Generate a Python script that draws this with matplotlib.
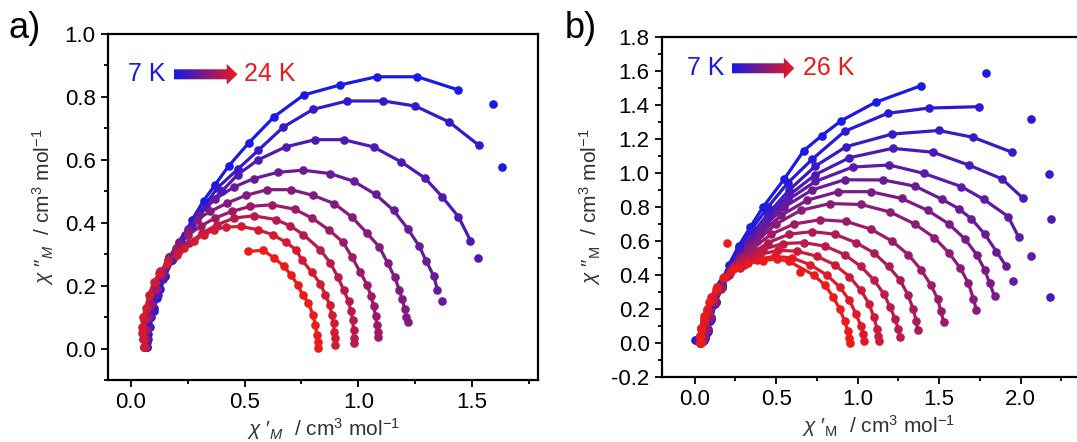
import matplotlib
matplotlib.use('Agg')
import matplotlib.pyplot as plt
import numpy as np
from matplotlib.patches import Polygon
from matplotlib.ticker import MultipleLocator

plt.rcParams['font.family'] = ['Liberation Sans', 'DejaVu Sans']
plt.rcParams['mathtext.fontset'] = 'custom'
plt.rcParams['mathtext.rm'] = 'Liberation Sans'
plt.rcParams['mathtext.it'] = 'Liberation Sans:italic'
plt.rcParams['axes.unicode_minus'] = False

# ---- panel a : 7 K -> 24 K ----
a1_x = [0.07, 0.07, 0.075, 0.08, 0.09, 0.10, 0.115, 0.13, 0.15, 0.18, 0.22, 0.27, 0.32, 0.37, 0.43, 0.52, 0.63, 0.76, 0.92, 1.08, 1.26, 1.44]
a1_y = [0.005, 0.02, 0.045, 0.07, 0.10, 0.13, 0.16, 0.19, 0.23, 0.28, 0.34, 0.41, 0.47, 0.52, 0.58, 0.655, 0.737, 0.806, 0.838, 0.864, 0.864, 0.822]
a2_x = [0.07, 0.075, 0.085, 0.10, 0.12, 0.15, 0.19, 0.24, 0.30, 0.38, 0.47, 0.56, 0.67, 0.80, 0.95, 1.11, 1.25, 1.40, 1.53]
a2_y = [0.005, 0.03, 0.07, 0.12, 0.17, 0.23, 0.29, 0.36, 0.43, 0.51, 0.57, 0.63, 0.704, 0.76, 0.787, 0.787, 0.771, 0.72, 0.646]
a3_x = [0.065, 0.07, 0.08, 0.095, 0.115, 0.14, 0.18, 0.22, 0.27, 0.33, 0.40, 0.47, 0.56, 0.68, 0.81, 0.935, 1.067, 1.189, 1.293, 1.368, 1.44, 1.493]
a3_y = [0.005, 0.03, 0.07, 0.12, 0.17, 0.22, 0.28, 0.33, 0.39, 0.45, 0.50, 0.553, 0.60, 0.641, 0.664, 0.664, 0.641, 0.593, 0.542, 0.483, 0.419, 0.343]
a4_x = [0.065, 0.065, 0.07, 0.08, 0.095, 0.115, 0.14, 0.17, 0.21, 0.25, 0.30, 0.37, 0.455, 0.54, 0.645, 0.757, 0.877, 0.979, 1.076, 1.155, 1.217, 1.268, 1.298, 1.331, 1.348]
a4_y = [0.005, 0.03, 0.06, 0.10, 0.14, 0.19, 0.24, 0.29, 0.34, 0.38, 0.425, 0.475, 0.514, 0.54, 0.56, 0.567, 0.556, 0.532, 0.49, 0.439, 0.381, 0.325, 0.279, 0.231, 0.187]
a5_x = [0.065, 0.065, 0.07, 0.08, 0.095, 0.115, 0.14, 0.17, 0.21, 0.25, 0.29, 0.35, 0.425, 0.506, 0.60, 0.704, 0.801, 0.894, 0.972, 1.038, 1.092, 1.129, 1.16, 1.18, 1.192, 1.204, 1.211, 1.217]
a5_y = [0.005, 0.03, 0.06, 0.10, 0.14, 0.19, 0.24, 0.29, 0.335, 0.375, 0.41, 0.436, 0.463, 0.487, 0.505, 0.505, 0.487, 0.461, 0.418, 0.367, 0.323, 0.272, 0.226, 0.187, 0.158, 0.127, 0.10, 0.083]
a6_x = [0.06, 0.06, 0.065, 0.075, 0.09, 0.11, 0.135, 0.165, 0.20, 0.25, 0.31, 0.37, 0.445, 0.525, 0.62, 0.72, 0.796, 0.869, 0.933, 0.972, 1.009, 1.038, 1.056, 1.067, 1.076, 1.082, 1.085, 1.085]
a6_y = [0.005, 0.03, 0.06, 0.10, 0.14, 0.19, 0.235, 0.28, 0.32, 0.36, 0.39, 0.415, 0.436, 0.452, 0.457, 0.443, 0.415, 0.378, 0.338, 0.291, 0.242, 0.203, 0.166, 0.136, 0.102, 0.075, 0.054, 0.036]
a7_x = [0.06, 0.055, 0.055, 0.06, 0.07, 0.085, 0.105, 0.13, 0.165, 0.21, 0.256, 0.315, 0.38, 0.455, 0.54, 0.638, 0.70, 0.759, 0.833, 0.877, 0.909, 0.935, 0.957, 0.968, 0.975, 0.979, 0.979, 0.979]
a7_y = [0.005, 0.03, 0.06, 0.09, 0.13, 0.17, 0.21, 0.245, 0.28, 0.31, 0.335, 0.367, 0.394, 0.415, 0.422, 0.41, 0.39, 0.362, 0.314, 0.272, 0.229, 0.187, 0.15, 0.118, 0.091, 0.059, 0.033, 0.018]
a8_x = [0.06, 0.055, 0.05, 0.05, 0.055, 0.065, 0.08, 0.10, 0.125, 0.16, 0.205, 0.234, 0.276, 0.322, 0.367, 0.418, 0.484, 0.557, 0.623, 0.682, 0.726, 0.752, 0.796, 0.833, 0.855, 0.874, 0.884, 0.891, 0.894, 0.896, 0.896]
a8_y = [0.005, 0.03, 0.05, 0.07, 0.10, 0.13, 0.17, 0.21, 0.24, 0.27, 0.298, 0.319, 0.341, 0.362, 0.378, 0.386, 0.388, 0.378, 0.362, 0.338, 0.314, 0.282, 0.242, 0.206, 0.171, 0.139, 0.107, 0.081, 0.054, 0.033, 0.012]
a9_x = [0.516, 0.582, 0.63, 0.674, 0.704, 0.733, 0.755, 0.781, 0.801, 0.811, 0.818, 0.821, 0.823]
a9_y = [0.309, 0.312, 0.288, 0.261, 0.234, 0.203, 0.171, 0.144, 0.107, 0.075, 0.043, 0.02, 0.001]

# points off the fitted lines (x, y, curve index)
a_stray_x = [1.59, 1.63, 1.528, 1.367]
a_stray_y = [0.779, 0.577, 0.288, 0.150]
a_stray_k = [0, 0, 2, 3]

# ---- panel b : 7 K -> 26 K ----
b1_x = [0.00, 0.03, 0.06, 0.07, 0.09, 0.12, 0.16, 0.21, 0.27, 0.34, 0.42, 0.55, 0.67, 0.78, 0.90, 1.11, 1.39]
b1_y = [0.02, 0.01, 0.02, 0.06, 0.13, 0.24, 0.35, 0.46, 0.57, 0.68, 0.80, 0.965, 1.132, 1.22, 1.308, 1.416, 1.514]
b2_x = [0.01, 0.04, 0.06, 0.075, 0.095, 0.125, 0.165, 0.215, 0.275, 0.35, 0.45, 0.57, 0.72, 0.92, 1.184, 1.436, 1.742]
b2_y = [0.02, 0.01, 0.02, 0.06, 0.13, 0.23, 0.34, 0.45, 0.56, 0.67, 0.80, 0.94, 1.08, 1.245, 1.351, 1.382, 1.39]
b3_x = [0.02, 0.05, 0.065, 0.08, 0.10, 0.13, 0.17, 0.22, 0.28, 0.36, 0.45, 0.58, 0.74, 0.93, 1.211, 1.497, 1.708, 1.947]
b3_y = [0.02, 0.01, 0.03, 0.07, 0.14, 0.24, 0.34, 0.44, 0.54, 0.65, 0.76, 0.90, 1.04, 1.155, 1.229, 1.25, 1.21, 1.122]
b4_x = [0.02, 0.05, 0.065, 0.08, 0.10, 0.13, 0.17, 0.22, 0.28, 0.36, 0.45, 0.58, 0.74, 0.95, 1.215, 1.462, 1.681, 1.886, 2.015]
b4_y = [0.02, 0.01, 0.03, 0.07, 0.14, 0.24, 0.34, 0.44, 0.53, 0.63, 0.74, 0.87, 0.99, 1.09, 1.145, 1.122, 1.047, 0.965, 0.851]
b5_x = [0.03, 0.05, 0.065, 0.08, 0.10, 0.13, 0.17, 0.22, 0.28, 0.35, 0.44, 0.57, 0.74, 0.97, 1.194, 1.405, 1.636, 1.773, 1.923, 1.988]
b5_y = [0.01, 0.02, 0.04, 0.08, 0.15, 0.24, 0.33, 0.42, 0.51, 0.61, 0.72, 0.84, 0.95, 1.035, 1.047, 0.998, 0.92, 0.845, 0.744, 0.622]
b6_x = [0.03, 0.05, 0.06, 0.075, 0.095, 0.125, 0.165, 0.215, 0.27, 0.34, 0.42, 0.55, 0.72, 0.92, 1.156, 1.354, 1.518, 1.62, 1.698, 1.78, 1.851, 1.912]
b6_y = [0.01, 0.02, 0.04, 0.08, 0.15, 0.24, 0.33, 0.42, 0.50, 0.59, 0.68, 0.80, 0.90, 0.96, 0.959, 0.922, 0.845, 0.79, 0.73, 0.64, 0.538, 0.451]
b7_x = [0.03, 0.05, 0.06, 0.075, 0.095, 0.125, 0.165, 0.215, 0.27, 0.33, 0.40, 0.53, 0.69, 0.88, 1.08, 1.27, 1.43, 1.56, 1.66, 1.73, 1.78, 1.81, 1.84]
b7_y = [0.01, 0.02, 0.04, 0.08, 0.15, 0.24, 0.33, 0.42, 0.50, 0.57, 0.64, 0.75, 0.84, 0.89, 0.89, 0.85, 0.78, 0.70, 0.61, 0.52, 0.43, 0.35, 0.275]
b8_x = [0.03, 0.05, 0.06, 0.075, 0.095, 0.125, 0.165, 0.215, 0.27, 0.32, 0.38, 0.50, 0.65, 0.83, 1.02, 1.20, 1.35, 1.47, 1.56, 1.63, 1.68, 1.71, 1.728]
b8_y = [0.01, 0.02, 0.04, 0.08, 0.15, 0.24, 0.33, 0.41, 0.49, 0.55, 0.60, 0.70, 0.78, 0.82, 0.815, 0.77, 0.70, 0.62, 0.53, 0.44, 0.35, 0.26, 0.196]
b9_x = [0.03, 0.045, 0.055, 0.07, 0.09, 0.12, 0.16, 0.21, 0.26, 0.30, 0.36, 0.47, 0.61, 0.77, 0.93, 1.08, 1.21, 1.31, 1.39, 1.45, 1.49, 1.51, 1.528]
b9_y = [0.01, 0.02, 0.04, 0.08, 0.15, 0.24, 0.32, 0.40, 0.47, 0.51, 0.56, 0.64, 0.70, 0.725, 0.715, 0.67, 0.60, 0.52, 0.43, 0.34, 0.26, 0.19, 0.122]
b10_x = [0.035, 0.04, 0.05, 0.065, 0.085, 0.115, 0.15, 0.19, 0.24, 0.29, 0.34, 0.45, 0.58, 0.72, 0.86, 0.99, 1.10, 1.19, 1.26, 1.31, 1.34, 1.36, 1.368]
b10_y = [0.0, 0.03, 0.06, 0.11, 0.17, 0.25, 0.32, 0.39, 0.45, 0.49, 0.52, 0.59, 0.64, 0.655, 0.64, 0.59, 0.53, 0.45, 0.37, 0.28, 0.20, 0.13, 0.075]
b11_x = [0.035, 0.035, 0.045, 0.06, 0.08, 0.11, 0.145, 0.185, 0.235, 0.28, 0.32, 0.42, 0.54, 0.67, 0.80, 0.92, 1.02, 1.10, 1.16, 1.20, 1.23, 1.25, 1.257]
b11_y = [0.0, 0.03, 0.07, 0.12, 0.18, 0.26, 0.33, 0.39, 0.44, 0.47, 0.49, 0.55, 0.585, 0.59, 0.57, 0.52, 0.45, 0.37, 0.29, 0.21, 0.14, 0.08, 0.035]
b12_x = [0.03, 0.03, 0.04, 0.055, 0.075, 0.105, 0.14, 0.18, 0.23, 0.27, 0.30, 0.40, 0.51, 0.63, 0.75, 0.86, 0.95, 1.02, 1.07, 1.10, 1.12, 1.125, 1.13]
b12_y = [0.0, 0.04, 0.08, 0.13, 0.19, 0.27, 0.33, 0.39, 0.43, 0.45, 0.46, 0.52, 0.545, 0.54, 0.51, 0.46, 0.39, 0.31, 0.23, 0.15, 0.08, 0.04, 0.01]
b13_x = [0.03, 0.03, 0.04, 0.055, 0.075, 0.10, 0.135, 0.175, 0.22, 0.28, 0.38, 0.49, 0.60, 0.71, 0.81, 0.89, 0.95, 0.99, 1.02, 1.035, 1.04]
b13_y = [0.0, 0.04, 0.09, 0.14, 0.20, 0.27, 0.33, 0.38, 0.42, 0.44, 0.49, 0.51, 0.50, 0.46, 0.40, 0.33, 0.25, 0.17, 0.10, 0.05, 0.01]
b14_x = [0.04, 0.03, 0.04, 0.06, 0.09, 0.13, 0.18, 0.25, 0.33, 0.42, 0.505, 0.58, 0.73, 0.80, 0.85, 0.89, 0.92, 0.94, 0.95, 0.955]
b14_y = [0.0, 0.04, 0.09, 0.16, 0.24, 0.32, 0.39, 0.44, 0.47, 0.485, 0.494, 0.48, 0.40, 0.34, 0.27, 0.20, 0.13, 0.07, 0.03, 0.0]

b_stray_x = [1.79, 2.064, 2.172, 2.188, 2.178, 2.066, 1.953, 0.20, 0.649]
b_stray_y = [1.588, 1.318, 0.994, 0.729, 0.269, 0.510, 0.363, 0.586, 0.418]
b_stray_k = [0, 1, 2, 3, 3, 4, 5, 13, 13]

a_curves = [(a1_x, a1_y), (a2_x, a2_y), (a3_x, a3_y), (a4_x, a4_y), (a5_x, a5_y),
            (a6_x, a6_y), (a7_x, a7_y), (a8_x, a8_y), (a9_x, a9_y)]
b_curves = [(b1_x, b1_y), (b2_x, b2_y), (b3_x, b3_y), (b4_x, b4_y), (b5_x, b5_y),
            (b6_x, b6_y), (b7_x, b7_y), (b8_x, b8_y), (b9_x, b9_y), (b10_x, b10_y),
            (b11_x, b11_y), (b12_x, b12_y), (b13_x, b13_y), (b14_x, b14_y)]

blue = np.array([0.10, 0.10, 0.90])
red = np.array([0.93, 0.10, 0.10])


def temp_colors(n):
    return [tuple((1 - t) * blue + t * red) for t in np.linspace(0, 1, n)]


def draw_curves(ax, curves, sx, sy, sk):
    cols = temp_colors(len(curves))
    for (x, y), c in zip(curves, cols):
        ax.plot(x, y, '-', color=c, lw=2.3, zorder=2)
        ax.plot(x, y, 'o', color=c, ms=6.2, mec='none', zorder=3)
    for x, y, k in zip(sx, sy, sk):
        ax.plot(x, y, 'o', color=cols[k], ms=6.2, mec='none', zorder=3)


def gradient_arrow(ax, x0, xh, x1, yc, hb, hh):
    verts = [(x0, yc - hb), (xh, yc - hb), (xh, yc - hh), (x1, yc),
             (xh, yc + hh), (xh, yc + hb), (x0, yc + hb)]
    poly = Polygon(verts, closed=True, transform=ax.transAxes,
                   facecolor='none', edgecolor='none')
    ax.add_patch(poly)
    g = np.linspace(0, 1, 256)[None, :, None]
    img = (1 - g) * blue + g * red
    im = ax.imshow(img, extent=(x0, x1, yc - hh, yc + hh), transform=ax.transAxes,
                   aspect='auto', interpolation='bilinear', zorder=4)
    im.set_clip_path(poly)


def style_axes(ax, xlim, ylim):
    ax.set_xlim(*xlim)
    ax.set_ylim(*ylim)
    ax.xaxis.set_major_locator(MultipleLocator(0.5))
    ax.xaxis.set_minor_locator(MultipleLocator(0.25))
    ax.yaxis.set_major_locator(MultipleLocator(0.2))
    ax.yaxis.set_minor_locator(MultipleLocator(0.1))
    ax.tick_params(which='both', direction='out', top=False, right=False,
                   width=1.3, labelsize=16, colors='black', pad=4)
    ax.tick_params(which='major', length=5)
    ax.tick_params(which='minor', length=3)
    for s in ax.spines.values():
        s.set_linewidth(1.6)


fig = plt.figure(figsize=(10.77, 4.42), dpi=100)
ax_a = fig.add_axes([0.1003, 0.1403, 0.3993, 0.7828])
ax_b = fig.add_axes([0.6147, 0.1471, 0.4011, 0.7692])

lab_kw = dict(fontsize=15, color='#333333')

# panel a
draw_curves(ax_a, a_curves, a_stray_x, a_stray_y, a_stray_k)
gradient_arrow(ax_a, 0.153, 0.276, 0.301, 0.8835, 0.0145, 0.030)
ax_a.text(0.047, 0.8835, '7 K', color=tuple(blue), fontsize=18,
          transform=ax_a.transAxes, va='center', ha='left')
ax_a.text(0.316, 0.8835, '24 K', color=tuple(red), fontsize=18,
          transform=ax_a.transAxes, va='center', ha='left')
style_axes(ax_a, (-0.1, 1.79), (-0.1, 1.0))
ax_a.set_xlabel("$\\mathit{\\chi}$ \u2032$_{M}$  / cm$^{3}$ mol$^{-1}$", labelpad=2, **lab_kw)
ax_a.set_ylabel("$\\mathit{\\chi}$ \u2033$_{M}$  / cm$^{3}$ mol$^{-1}$", labelpad=6, **lab_kw)

# panel b
draw_curves(ax_b, b_curves, b_stray_x, b_stray_y, b_stray_k)
gradient_arrow(ax_b, 0.161, 0.282, 0.306, 0.908, 0.0147, 0.031)
ax_b.text(0.057, 0.908, '7 K', color=tuple(blue), fontsize=18,
          transform=ax_b.transAxes, va='center', ha='left')
ax_b.text(0.326, 0.908, '26 K', color=tuple(red), fontsize=18,
          transform=ax_b.transAxes, va='center', ha='left')
style_axes(ax_b, (-0.2, 2.45), (-0.2, 1.8))
ax_b.set_xlabel("$\\mathit{\\chi}$ \u2032$_{\\mathrm{M}}$  / cm$^{3}$ mol$^{-1}$", labelpad=2, **lab_kw)
ax_b.set_ylabel("$\\mathit{\\chi}$ \u2033$_{\\mathrm{M}}$  / cm$^{3}$ mol$^{-1}$", labelpad=6, **lab_kw)

fig.text(0.008, 0.975, 'a)', fontsize=26, va='top', ha='left')
fig.text(0.524, 0.975, 'b)', fontsize=26, va='top', ha='left')

fig.savefig('out.png', dpi=100)
